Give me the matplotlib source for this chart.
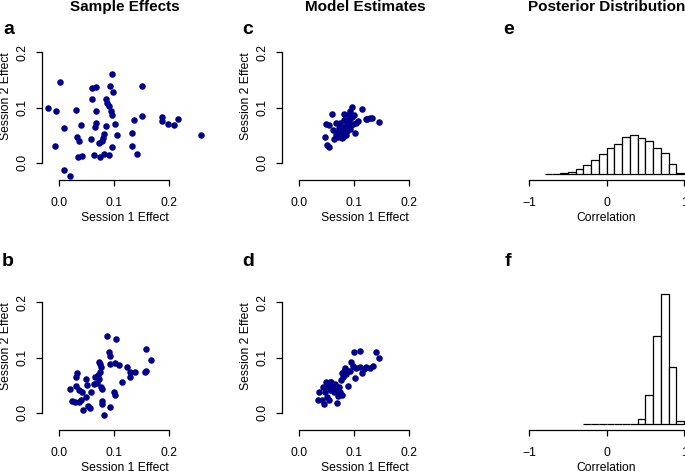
import matplotlib
matplotlib.use('Agg')
import matplotlib.pyplot as plt

plt.rcParams['font.family'] = ['Liberation Sans', 'DejaVu Sans']

# ---------------- data ----------------
# (a) sample effects, session 1 vs session 2
sample_a_x = [-0.0205, -0.0054, 0.0024, 0.0102, -0.0078, 0.0090, 0.0193, 0.0307, 0.0325, 0.0373,
              0.0404, 0.0350, 0.0422, 0.0578, 0.0608, 0.0608, 0.0680, 0.0675, 0.0663, 0.0650,
              0.0627, 0.0735, 0.0747, 0.0777, 0.0801, 0.0819, 0.0813, 0.0855, 0.0861, 0.0873,
              0.0904, 0.0910, 0.0928, 0.0940, 0.0958, 0.0970, 0.0982, 0.0964, 0.1012, 0.1054,
              0.1325, 0.1331, 0.1355, 0.1416, 0.1500, 0.1512, 0.1873, 0.1873, 0.1982, 0.2084,
              0.2163, 0.2566]
sample_a_y = [0.0988, 0.0934, 0.1470, 0.0639, 0.0313, -0.0133, -0.0235, 0.0958, 0.0476, 0.0392,
              0.0681, 0.0114, 0.0120, 0.0440, 0.1163, 0.1361, 0.1373, 0.0946, 0.0717, 0.0657,
              0.0145, 0.0367, 0.0102, 0.0398, 0.0458, 0.0524, 0.0163, 0.0675, 0.1157, 0.1078,
              0.0139, 0.1030, 0.1386, 0.0946, 0.1614, 0.0867, 0.1277, 0.0283, 0.0711, 0.0512,
              0.0542, 0.0307, 0.0783, 0.0169, 0.1398, 0.0843, 0.0831, 0.0765, 0.0711, 0.0681,
              0.0789, 0.0512]

# (b) sample effects, second data set
sample_b_x = [0.0193, 0.0229, 0.0295, 0.0331, 0.0307, 0.0319, 0.0367, 0.0392, 0.0373, 0.0416,
              0.0428, 0.0500, 0.0506, 0.0500, 0.0524, 0.0560, 0.0584, 0.0633, 0.0651, 0.0693,
              0.0717, 0.0729, 0.0741, 0.0753, 0.0765, 0.0771, 0.0783, 0.0789, 0.0783, 0.0813,
              0.0873, 0.0904, 0.0934, 0.0934, 0.0922, 0.0994, 0.1024, 0.1042, 0.1024, 0.1084,
              0.1145, 0.1235, 0.1283, 0.1295, 0.1386, 0.1554, 0.1584, 0.1572, 0.1675, 0.0729]
sample_b_y = [0.0440, 0.0211, 0.0205, 0.0717, 0.0651, 0.0482, 0.0410, 0.0235, 0.0205, 0.0373,
              0.0054, 0.0614, 0.0512, 0.0283, 0.0133, 0.0090, 0.0380, 0.0518, 0.0645, 0.0536,
              0.0687, 0.0928, 0.0880, 0.0735, 0.0825, 0.0464, 0.0434, 0.0223, 0.0163, -0.0036,
              0.1386, 0.1108, 0.1024, 0.0886, 0.0114, 0.0373, 0.0325, 0.1343, 0.0904, 0.0861,
              0.0554, 0.0837, 0.0747, 0.0657, 0.0741, 0.0735, 0.0765, 0.1157, 0.0964, 0.0614]

# (c) model estimates, first data set
model_c_x = [0.0602, 0.0494, 0.0542, 0.0482, 0.0506, 0.0548, 0.0633, 0.0669, 0.0693, 0.0729,
             0.0753, 0.0777, 0.0801, 0.0813, 0.0825, 0.0843, 0.0861, 0.0873, 0.0892, 0.0910,
             0.0922, 0.0934, 0.0958, 0.0970, 0.0982, 0.1012, 0.1042, 0.1072, 0.1145, 0.1211,
             0.1283, 0.1331, 0.1446, 0.0801, 0.0741, 0.0849, 0.0620, 0.0680, 0.0831, 0.0892,
             0.0952, 0.0789, 0.0717, 0.0873, 0.1240, 0.0934, 0.0994]
model_c_y = [0.0886, 0.0711, 0.0680, 0.0470, 0.0319, 0.0283, 0.0428, 0.0717, 0.0566, 0.0627,
             0.0506, 0.0452, 0.0657, 0.0880, 0.0777, 0.0566, 0.0506, 0.0705, 0.0867, 0.0777,
             0.0608, 0.0934, 0.1006, 0.0837, 0.0699, 0.0536, 0.0717, 0.0765, 0.0982, 0.0789,
             0.0807, 0.0813, 0.0735, 0.0476, 0.0717, 0.0657, 0.0596, 0.0506, 0.0566, 0.0669,
             0.0687, 0.0536, 0.0464, 0.0584, 0.0795, 0.0807, 0.0867]

# (d) model estimates, second data set
model_d_x = [0.0343, 0.0367, 0.0416, 0.0452, 0.0476, 0.0488, 0.0512, 0.0530, 0.0548, 0.0560,
             0.0578, 0.0608, 0.0633, 0.0657, 0.0681, 0.0705, 0.0723, 0.0741, 0.0759, 0.0777,
             0.0801, 0.0813, 0.0831, 0.0861, 0.0892, 0.0922, 0.0952, 0.0982, 0.0994, 0.1012,
             0.1042, 0.1102, 0.1114, 0.1139, 0.1175, 0.1223, 0.1283, 0.1343, 0.1404, 0.1446,
             0.0440, 0.0560, 0.0669, 0.0777, 0.0892]
model_d_y = [0.0235, 0.0373, 0.0229, 0.0163, 0.0373, 0.0554, 0.0283, 0.0464, 0.0235, 0.0422,
             0.0554, 0.0482, 0.0373, 0.0524, 0.0175, 0.0313, 0.0470, 0.0373, 0.0596, 0.0325,
             0.0645, 0.0765, 0.0807, 0.0705, 0.0482, 0.0765, 0.0928, 0.0855, 0.1096, 0.0627,
             0.0807, 0.1114, 0.0825, 0.0723, 0.0795, 0.0825, 0.0813, 0.0855, 0.1102, 0.0994,
             0.0464, 0.0554, 0.0422, 0.0723, 0.0765]

# (e) posterior of correlation, first data set (density per 0.1-wide bin)
post_e_bin_left = [-0.8, -0.7, -0.6, -0.5, -0.4, -0.3, -0.2, -0.1, 0.0, 0.1,
                   0.2, 0.3, 0.4, 0.5, 0.6, 0.7, 0.8, 0.9]
post_e_density = [0.005, 0.01, 0.03, 0.07, 0.17, 0.27, 0.46, 0.63, 0.84, 0.96,
                  1.20, 1.25, 1.15, 1.07, 0.85, 0.68, 0.31, 0.04]

# (f) posterior of correlation, second data set
post_f_bin_left = [-0.3, -0.2, -0.1, 0.0, 0.1, 0.2, 0.3, 0.4, 0.5, 0.6, 0.7, 0.8, 0.9]
post_f_density = [0.002, 0.002, 0.002, 0.002, 0.003, 0.005, 0.01, 0.16, 0.92, 2.83, 4.19, 1.85, 0.09]

effect_ticks = [0.0, 0.1, 0.2]
effect_tick_labels = ['0.0', '0.1', '0.2']
corr_ticks = [-1, 0, 1]
corr_tick_labels = ['\u22121', '0', '1']

column_titles = ['Sample Effects', 'Model Estimates', 'Posterior Distribution']
panel_letters = ['a', 'b', 'c', 'd', 'e', 'f']

# ---------------- layout ----------------
W, H = 685, 471
fig = plt.figure(figsize=(W / 100, H / 100), dpi=100)

POINT_COLOR = '#00008B'
FS = 8.7


def px_axes(left, top, width, height):
    return fig.add_axes([left / W, 1 - (top + height) / H, width / W, height / H])


def style_common(ax):
    ax.patch.set_alpha(0)
    for s in ['top', 'right']:
        ax.spines[s].set_visible(False)
    for s in ['left', 'bottom']:
        ax.spines[s].set_linewidth(0.9)
    ax.tick_params(direction='out', length=4.3, width=0.9, labelsize=FS)
    ax.tick_params(axis='x', pad=8.0)
    ax.tick_params(axis='y', pad=5.0)


def scatter_panel(ax, xs, ys):
    ax.plot(xs, ys, 'o', color=POINT_COLOR, markersize=4.7, markeredgewidth=0, clip_on=False)
    ax.set_xlim(-0.031, 0.271)
    ax.set_ylim(-0.031, 0.271)
    style_common(ax)
    ax.spines['left'].set_bounds(0, 0.2)
    ax.spines['bottom'].set_bounds(0, 0.2)
    ax.set_xticks(effect_ticks)
    ax.set_xticklabels(effect_tick_labels)
    ax.set_yticks(effect_ticks)
    ax.set_yticklabels(effect_tick_labels, rotation=90, va='center')
    ax.set_xlabel('Session 1 Effect', fontsize=FS, labelpad=2.2)
    ax.set_ylabel('Session 2 Effect', fontsize=FS, labelpad=3.5)


def hist_panel(ax, lefts, dens):
    ax.bar(lefts, dens, width=0.1, align='edge', facecolor='white',
           edgecolor='black', linewidth=0.9)
    ax.set_xlim(-1.08, 1.08)
    ax.set_ylim(-0.2, 5.2)
    style_common(ax)
    ax.spines['left'].set_visible(False)
    ax.set_yticks([])
    ax.spines['bottom'].set_bounds(-1, 1)
    ax.set_xticks(corr_ticks)
    ax.set_xticklabels(corr_tick_labels)
    ax.set_xlabel('Correlation', fontsize=FS, labelpad=2.2)


col_left = [41.7, 281.7, 522.8]
row_top = [13.0, 263.0]
AW, AH = 167.0, 167.0

ax_a = px_axes(col_left[0], row_top[0], AW, AH)
scatter_panel(ax_a, sample_a_x, sample_a_y)
ax_b = px_axes(col_left[0], row_top[1], AW, AH)
scatter_panel(ax_b, sample_b_x, sample_b_y)
ax_c = px_axes(col_left[1], row_top[0], AW, AH)
scatter_panel(ax_c, model_c_x, model_c_y)
ax_d = px_axes(col_left[1], row_top[1], AW, AH)
scatter_panel(ax_d, model_d_x, model_d_y)
ax_e = px_axes(col_left[2], row_top[0], 167.4, AH)
hist_panel(ax_e, post_e_bin_left, post_e_density)
ax_f = px_axes(col_left[2], row_top[1], 167.4, AH)
hist_panel(ax_f, post_f_bin_left, post_f_density)

# column titles
title_cx = [125.2, 365.2, 606.5]
for cx, t in zip(title_cx, column_titles):
    fig.text(cx / W, 1 - 7.0 / H, t, ha='center', va='center',
             fontsize=11, fontweight='bold')

# panel letters
letter_pos = [(3, 33.5), (2, 265.5), (242, 33.5), (242, 265.5), (503, 33.5), (505, 265.5)]
for (lx, ly), letter in zip(letter_pos, panel_letters):
    fig.text(lx / W, 1 - ly / H, letter, ha='left', va='baseline',
             fontsize=14, fontweight='bold')

fig.savefig('out.png', dpi=100)
